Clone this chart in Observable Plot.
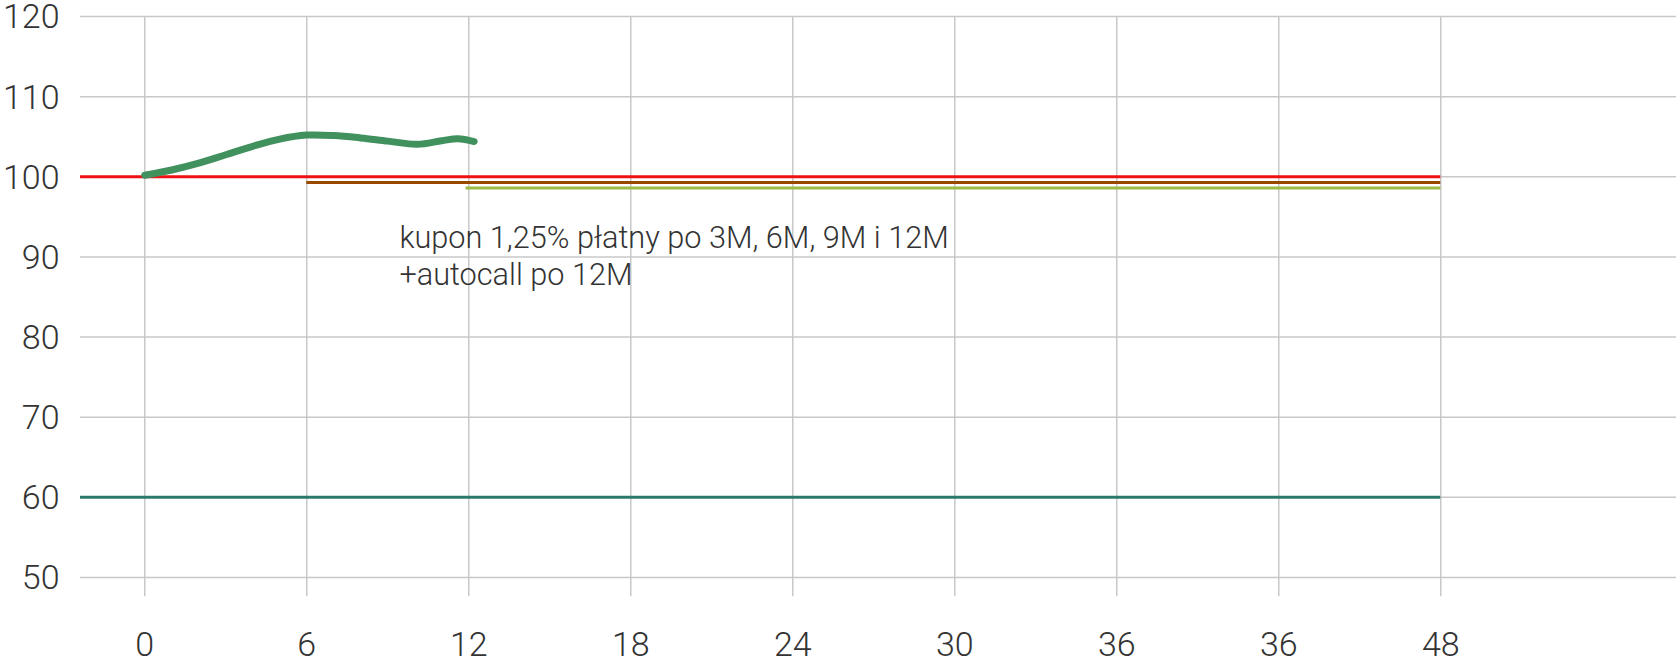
<!DOCTYPE html>
<html>
<head>
<meta charset="utf-8">
<script src="https://cdn.jsdelivr.net/npm/d3@7"></script>
<script src="https://cdn.jsdelivr.net/npm/@observablehq/plot@0.6"></script>
<style>
  html, body { margin: 0; padding: 0; background: #fff; }
  #chart svg { display: block; }
</style>
</head>
<body>
<div id="chart"></div>
<script>
// ---- data ----
const xTicks = [0, 6, 12, 18, 24, 30, 36, 42, 48];
const xLabels = ["0", "6", "12", "18", "24", "30", "36", "36", "48"];
const yTicks = [50, 60, 70, 80, 90, 100, 110, 120];

// price path (months, level)
const pathX = [0, 1, 2, 3, 4, 5, 6, 7, 8, 9, 10.1, 11, 11.6, 12.2];
const pathY = [100.2, 100.85, 101.7, 102.75, 103.8, 104.7, 105.2, 105.15, 104.85, 104.45, 104.05, 104.5, 104.75, 104.4];

// horizontal levels
const levelNames = ["kapital", "kupon6", "kupon12", "bariera"];
const levelStart = [-2.38, 6, 11.9, -2.38];
const levelEnd = [48, 48, 48, 48];
const levelValue = [100, 99.3, 98.6, 60];
const levelColors = ["#ee1111", "#9a4a00", "#9bbb45", "#2b786c"];

const noteText = ["kupon 1,25% płatny po 3M, 6M, 9M i 12M", "+autocall po 12M"];
const noteX = [9.43, 9.43];
const noteY = [92.35, 87.75];

// ---- build ----
const path = pathX.map((x, i) => ({x, y: pathY[i]}));
const levels = levelNames.map((n, i) => ({n, x1: levelStart[i], x2: levelEnd[i], y: levelValue[i], c: levelColors[i]}));
const notes = noteText.map((t, i) => ({t, x: noteX[i], y: noteY[i]}));

const FONT = "Roboto, 'Open Sans', sans-serif";

const chart = Plot.plot({
  width: 1676,
  height: 659,
  marginLeft: 80,
  marginRight: 0,
  marginTop: 16,
  marginBottom: 82,
  style: {fontFamily: FONT, fontWeight: 300, color: "#333", background: "#fff"},
  x: {domain: [-2.38, 56.73], axis: null},
  y: {domain: [50, 120], axis: null},
  marks: [
    Plot.ruleY(yTicks, {stroke: "#c8c8c8", strokeWidth: 1.5}),
    Plot.ruleX(xTicks, {y1: 120, y2: 47.6, stroke: "#c8c8c8", strokeWidth: 1.5}),
    Plot.ruleY(levels, {x1: "x1", x2: "x2", y: "y", stroke: "c", strokeWidth: 3}),
    Plot.line(path, {x: "x", y: "y", stroke: "#41915f", strokeWidth: 7, curve: "catmull-rom", strokeLinecap: "round"}),
    Plot.text(yTicks, {x: -2.38, y: d => d, text: d => String(d), dx: -21, dy: 1, textAnchor: "end", fontSize: 34, fill: "#333", fontWeight: 300}),
    Plot.text(xTicks, {x: d => d, y: 50, dy: 68, text: (d, i) => xLabels[i], fontSize: 34, fill: "#333", fontWeight: 300}),
    Plot.text(notes, {x: "x", y: "y", text: "t", textAnchor: "start", fontSize: 30.7, fill: "#333", fontWeight: 300})
  ]
});
document.getElementById("chart").appendChild(chart);
</script>
</body>
</html>
